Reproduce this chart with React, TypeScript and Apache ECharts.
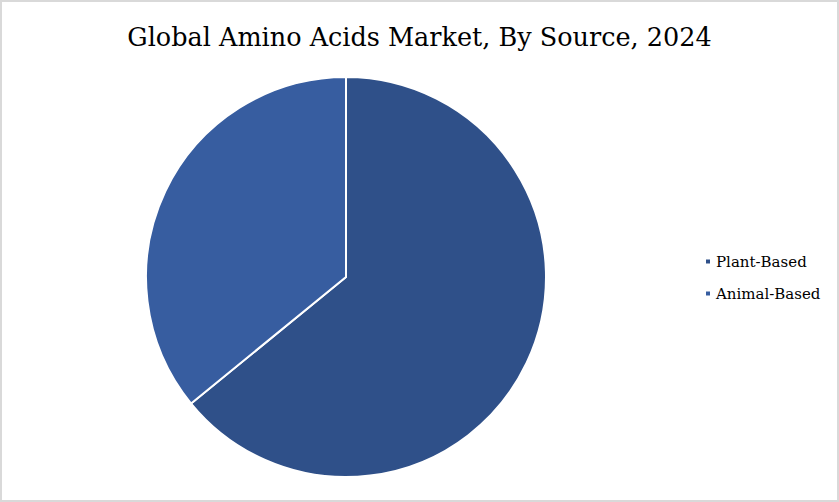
import { useEffect, useRef } from "react";
import * as echarts from "echarts";

const sources = ["Plant-Based", "Animal-Based"];
const shares = [64.1, 35.9];
const colors = ["#2F5089", "#375DA0"];

export default function App() {
  const chartRef = useRef<HTMLDivElement>(null);

  useEffect(() => {
    if (!chartRef.current) return;
    const chart = echarts.init(chartRef.current, null, { renderer: "svg" });

    const option: echarts.EChartsOption = {
      animation: false,
      title: {
        text: "Global Amino Acids Market, By Source, 2024",
        left: "center",
        top: 17,
        textStyle: {
          fontFamily: "DejaVu Serif",
          fontWeight: "normal",
          fontSize: 25.5,
          color: "#000",
        },
      },
      legend: {
        orient: "vertical",
        left: 702,
        top: 252,
        padding: 0,
        itemWidth: 6,
        itemHeight: 6,
        itemGap: 17,
        icon: "rect",
        textStyle: {
          fontFamily: "DejaVu Serif",
          fontSize: 15,
          color: "#000",
        },
        data: sources,
      },
      series: [
        {
          type: "pie",
          center: [344, 275],
          radius: 200,
          startAngle: 90,
          clockwise: true,
          label: { show: false },
          labelLine: { show: false },
          itemStyle: { borderColor: "#fff", borderWidth: 2 },
          data: sources.map((name, i) => ({
            name,
            value: shares[i],
            itemStyle: { color: colors[i] },
          })),
        },
      ],
    };

    chart.setOption(option);
    return () => chart.dispose();
  }, []);

  return (
    <div
      ref={chartRef}
      style={{
        position: "fixed",
        left: 0,
        top: 0,
        width: 839,
        height: 502,
        boxSizing: "border-box",
        border: "2px solid #D9D9D9",
        background: "#fff",
      }}
    />
  );
}
